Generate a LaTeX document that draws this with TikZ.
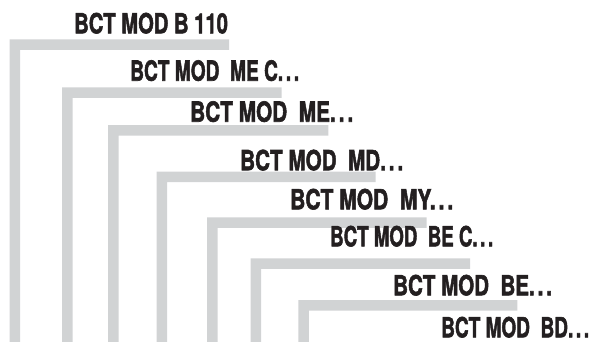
\documentclass[tikz,border=0pt]{standalone}
\usepackage{fontspec}
\setmainfont{TeX Gyre Heros}[BoldFeatures={FakeBold=2.2}]
\definecolor{bargray}{HTML}{D1D3D4}
\definecolor{ink}{HTML}{231F20}
\newcommand{\lblbox}[2]{\resizebox{#1pt}{20.5pt}{\bfseries #2}}
\newcommand{\ddd}{.\kern0.14em.\kern0.14em.}
\tikzset{
  lbl/.style={anchor=base west, inner sep=0pt, text=ink},
  barfill/.style={fill=bargray}
}
\begin{document}
\begin{tikzpicture}[x=1pt,y=-1pt]
\useasboundingbox (0,0) rectangle (595,342);
% L-shaped bars
\foreach \l/\t/\r in {9.5/39.5/229, 62/87.3/281.7, 108/125.2/328.3, 156.5/171.7/375.7, 207/217.3/426.7, 250.5/258.3/470, 298.3/300/517.3}{
  \fill[barfill] (\l,\t) -- (\r,\t) -- (\r,\t+10.5) -- (\l+10.5,\t+10.5) -- (\l+10.5,345) -- (\l,345) -- cycle;
}
% labels
\node[lbl] (t1) at (74,33.3)  {\lblbox{153.7}{BCT MOD B 110}};
\node[lbl] (t2) at (130,80.7) {\lblbox{169}{BCT MOD\ \ ME C\ddd}};
\node[lbl] (t3) at (190,121.7) {\lblbox{163}{BCT MOD\ \ ME\ddd}};
\node[lbl] (t4) at (240,170.2) {\lblbox{163}{BCT MOD\ \ MD\ddd}};
\node[lbl] (t5) at (290,209.3) {\lblbox{163}{BCT MOD\ \ MY\ddd}};
\node[lbl] (t6) at (330,246.3) {\lblbox{163}{BCT MOD\ \ BE C\ddd}};
\node[lbl] (t7) at (393,295.3) {\lblbox{158.7}{BCT MOD\ \ BE\ddd}};
\node[lbl] (t8) at (441,337.3) {\lblbox{148}{BCT MOD\ \ BD\ddd}};
\end{tikzpicture}
\end{document}
